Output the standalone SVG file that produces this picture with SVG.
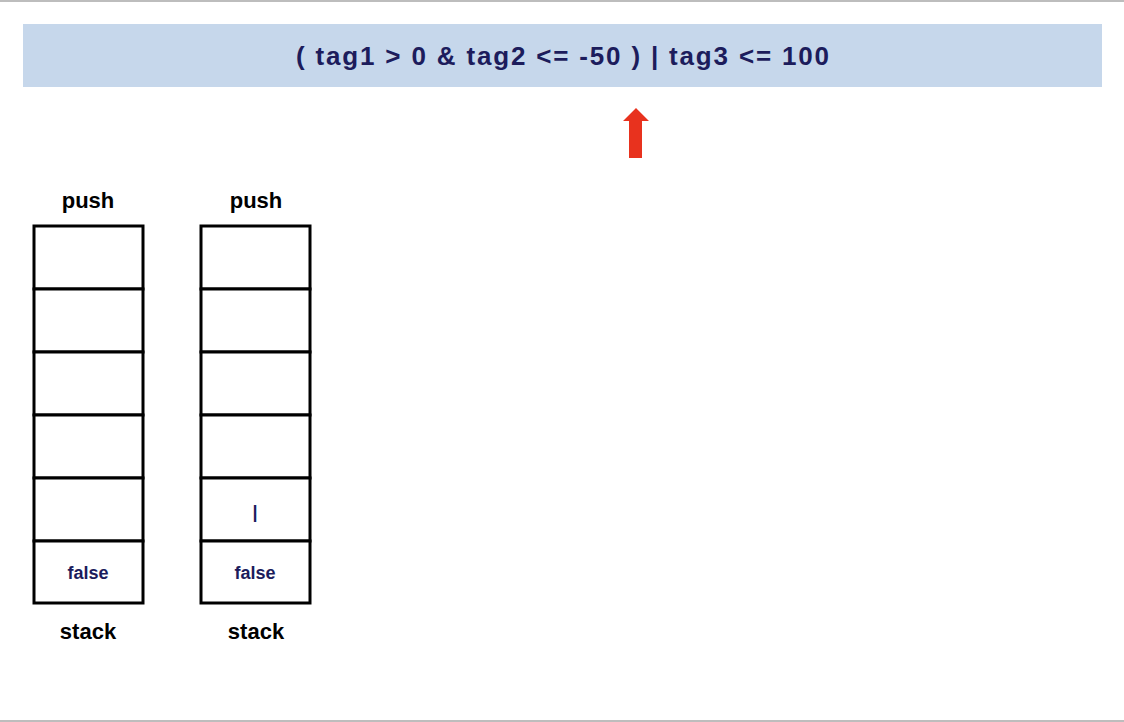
<svg xmlns="http://www.w3.org/2000/svg" width="1124" height="722" viewBox="0 0 1124 722">
<style>
.cell{fill:#fff;stroke:#000;stroke-width:3}
.lbl{font-family:"Liberation Sans",Arial,sans-serif;font-weight:bold;font-size:22px;fill:#000;text-anchor:middle}
.val{font-family:"Liberation Sans",Arial,sans-serif;font-weight:bold;font-size:18px;fill:#1c1c5c;text-anchor:middle}
</style>
<rect width="1124" height="722" fill="#fff"/>
<line x1="0" y1="1" x2="1124" y2="1" stroke="#bdbdbd" stroke-width="2"/>
<line x1="0" y1="721" x2="1124" y2="721" stroke="#bdbdbd" stroke-width="2"/>
<g id="expr">
<rect x="23" y="24" width="1079" height="63" fill="#c6d7eb"/>
<text x="296" y="65" textLength="533" lengthAdjust="spacing" font-family="'Liberation Sans',Arial,sans-serif" font-weight="bold" font-size="26" fill="#1c1c5c">( tag1 &gt; 0 &amp; tag2 &lt;= -50 ) | tag3 &lt;= 100</text>
</g>
<g id="pointer">
<polygon points="636,108 649,121 642,121 642,158 629,158 629,121 623,121" fill="#e8321e"/>
</g>
<g id="stack1">
<text class="lbl" x="88" y="208">push</text>
<rect class="cell" x="34" y="226" width="109" height="63"/>
<rect class="cell" x="34" y="289" width="109" height="63"/>
<rect class="cell" x="34" y="352" width="109" height="63"/>
<rect class="cell" x="34" y="415" width="109" height="63"/>
<rect class="cell" x="34" y="478" width="109" height="63"/>
<rect class="cell" x="34" y="541" width="109" height="62"/>
<text class="val" x="88" y="579">false</text>
<text class="lbl" x="88" y="639">stack</text>
</g>
<g id="stack2">
<text class="lbl" x="256" y="208">push</text>
<rect class="cell" x="201" y="226" width="109" height="63"/>
<rect class="cell" x="201" y="289" width="109" height="63"/>
<rect class="cell" x="201" y="352" width="109" height="63"/>
<rect class="cell" x="201" y="415" width="109" height="63"/>
<rect class="cell" x="201" y="478" width="109" height="63"/>
<rect class="cell" x="201" y="541" width="109" height="62"/>
<text class="val" x="255" y="518">|</text>
<text class="val" x="255" y="579">false</text>
<text class="lbl" x="256" y="639">stack</text>
</g>
<g id="connectors"></g>
</svg>
